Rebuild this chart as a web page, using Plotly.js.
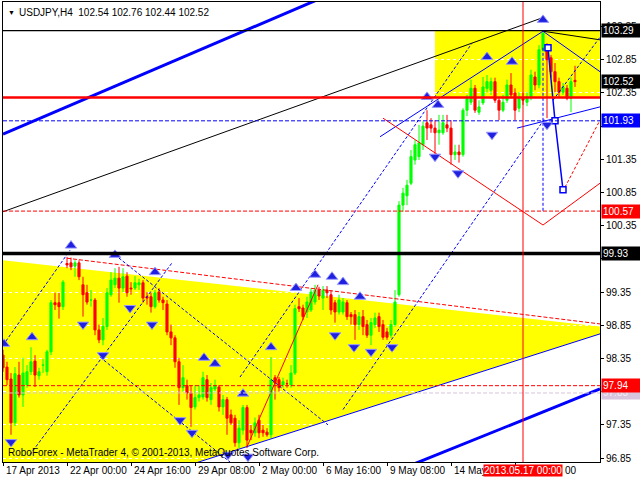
<!DOCTYPE html>
<html><head><meta charset="utf-8">
<script src="https://cdn.plot.ly/plotly-3.0.1.min.js"></script>
<style>html,body{margin:0;padding:0;background:#fff;}#chart{width:640px;height:480px;}</style>
</head><body><div id="chart"></div>
<script>
// ---------- data ----------
const titleText = 'USDJPY,H4\u00A0\u00A0102.54 102.76 102.44 102.52';
const footerText = 'RoboForex - MetaTrader 4, \u00A9 2001-2013, MetaQuotes Software Corp.';

const open = [98.40,98.22,98.04,97.38,98.10,97.80,97.95,98.15,98.31,98.09,98.25,98.15,98.45,99.19,99.19,99.13,99.78,99.79,99.74,99.79,
99.46,99.34,99.23,99.23,98.78,98.63,98.83,99.31,99.46,99.56,99.41,99.59,99.41,99.41,99.46,99.49,99.28,99.28,99.13,99.35,
99.23,99.17,98.75,98.66,98.30,97.91,97.94,97.83,97.62,97.76,97.77,98.03,97.73,97.89,97.92,97.62,97.73,97.50,97.45,97.08,
97.27,97.61,97.27,97.23,97.42,97.27,97.24,97.20,98.06,98.03,97.95,97.97,97.95,98.13,99.13,99.11,99.05,99.08,99.20,99.38,
99.26,99.38,99.31,99.19,99.05,99.05,99.19,99.01,99.01,98.86,98.98,98.86,98.70,98.86,98.98,98.86,98.75,98.70,98.86,99.31,
100.66,100.80,100.99,101.34,101.39,101.57,101.90,101.87,101.82,101.75,101.75,101.87,101.82,101.42,101.46,101.42,102.09,102.21,102.42,102.06,
102.20,102.42,102.39,102.52,102.24,102.09,102.24,102.47,102.35,102.12,102.27,102.21,102.29,102.59,102.47,103.00,103.03,102.88,102.67,102.52,
102.36,102.42,102.27,102.54];
const high = [98.48,98.30,98.13,98.22,98.30,98.36,98.25,98.52,98.40,98.21,98.34,98.48,99.23,99.34,99.34,99.53,99.88,99.87,99.83,99.83,
99.58,99.46,99.38,99.26,98.86,98.96,99.41,99.65,99.71,99.73,99.71,99.65,99.50,99.59,99.55,99.53,99.35,99.34,99.38,99.41,
99.28,99.23,98.86,98.70,98.36,98.25,98.03,97.95,97.95,97.95,98.15,98.10,97.98,98.03,97.95,97.80,97.77,97.58,97.50,97.42,
97.65,97.65,97.35,97.46,97.50,97.35,97.30,98.37,98.10,98.07,98.06,98.03,98.25,99.16,99.26,99.16,99.28,99.41,99.46,99.43,
99.44,99.44,99.38,99.23,99.31,99.26,99.23,99.05,99.08,99.05,99.08,98.93,98.96,99.04,99.04,98.93,98.81,98.93,99.38,100.72,
100.92,101.04,101.49,101.64,101.87,101.92,102.09,101.97,101.94,102.02,102.02,102.02,101.94,101.57,101.57,102.12,102.32,102.55,102.47,102.24,
102.59,102.62,102.58,102.58,102.29,102.32,102.55,102.65,102.42,102.36,102.35,102.36,102.70,102.67,103.07,103.29,103.10,102.92,102.80,102.58,
102.50,102.47,102.58,102.76];
const low = [98.15,97.95,97.20,97.33,97.76,97.62,97.91,98.10,97.92,98.03,98.13,98.09,98.40,99.08,98.95,99.08,99.71,99.68,99.58,99.53,
98.98,99.16,99.13,98.70,98.58,98.55,98.78,99.28,99.41,99.19,99.35,99.28,99.31,99.38,99.38,99.19,99.16,99.04,99.10,99.19,
99.08,98.70,98.55,98.21,97.65,97.85,97.73,97.32,97.58,97.70,97.73,97.70,97.65,97.85,97.55,97.50,97.20,97.35,97.02,97.00,
97.20,97.00,97.12,97.17,97.15,97.17,97.17,97.15,97.73,97.85,97.91,97.91,97.91,98.10,99.05,98.93,98.96,99.05,99.16,99.23,
99.08,99.26,99.01,98.89,99.01,99.01,98.93,98.86,98.63,98.78,98.70,98.66,98.55,98.81,98.75,98.63,98.63,98.66,98.83,99.28,
100.56,100.66,100.96,101.27,101.34,101.49,101.64,101.75,101.42,101.57,101.72,101.76,101.27,101.34,101.30,101.39,102.00,102.17,102.05,102.02,
102.17,102.36,102.32,102.20,101.94,102.06,102.20,102.27,101.94,102.06,102.17,102.15,102.24,102.39,102.42,102.97,101.97,102.58,102.36,102.29,
102.32,102.24,102.06,102.44];
const close = [98.21,98.03,97.38,98.12,97.80,98.13,98.15,98.30,98.10,98.15,98.25,98.45,99.19,99.16,99.13,99.50,99.76,99.73,99.79,99.58,
99.31,99.20,99.23,98.78,98.63,98.83,99.34,99.53,99.56,99.41,99.58,99.34,99.40,99.49,99.49,99.26,99.26,99.13,99.34,99.23,
99.19,98.75,98.66,98.30,97.91,98.06,97.83,97.61,97.76,97.80,98.06,97.76,97.91,97.94,97.62,97.73,97.45,97.38,97.08,97.30,
97.61,97.12,97.23,97.38,97.23,97.23,97.20,98.03,97.98,97.91,98.00,97.97,98.13,99.10,99.10,98.98,99.20,99.35,99.38,99.29,
99.38,99.34,99.08,99.05,99.23,99.20,98.98,98.98,98.86,98.98,98.83,98.70,98.89,98.96,98.83,98.67,98.67,98.86,99.20,100.66,
100.84,100.96,101.39,101.57,101.60,101.85,101.82,101.82,101.75,101.79,101.90,101.82,101.42,101.46,101.42,102.09,102.27,102.42,102.09,102.14,
102.44,102.52,102.52,102.24,102.09,102.21,102.47,102.32,102.09,102.27,102.24,102.29,102.62,102.47,103.00,103.25,102.85,102.67,102.52,102.36,
102.44,102.27,102.52,102.52];

const timeTickBars = [0,16,32,48,64,80,96,112,128];
const timeTickText = ['17 Apr 2013','22 Apr 00:00','24 Apr 16:00','29 Apr 08:00','2 May 00:00','6 May 16:00','9 May 08:00','14 May','00'];
const priceTicks = [96.85,97.35,97.85,98.35,98.85,99.35,99.85,100.35,100.85,101.35,101.85,102.35,102.85,103.35];
const hiddenPriceTicks = [97.85,99.85,101.85];
const markerBar = 130;
const markerLabel = '2013.05.17 00:00';

// horizontal levels
const levelHigh = 103.29;
const levelResist = 102.28;
const levelBid = 102.52;
const levelBlue = 101.93;
const levelRedUp = 100.57;
const levelBlack = 99.93;
const levelRedLow = 97.94;
const levelLav = 97.83;

// zones
const triX = [0,149.25,149.25,44.25,0];
const triY = [99.83,98.83,98.72,96.70,96.70];
const rectX = [108,149.25];
const rectY = [102.28,103.29];

// trend lines (bar index, price)
const blueThickUpX = [0,80], blueThickUpY = [101.73,103.79];
const blueThickLowX = [99,149.25], blueThickLowY = [96.67,97.89];
const blueSupportX = [44.25,149.25], blueSupportY = [96.70,98.72];
const redDashTopX = [16,149.25], redDashTopY = [99.86,98.87];
const blackChanX = [0,134.75], blackChanY = [100.56,103.48];
const blackTopX = [135,149.25], blackTopY = [103.28,103.15];
const blueUpX = [94.25,135], blueUpY = [101.69,103.28];
const blueDownX = [135,149.25], blueDownY = [103.28,102.67];
const blueLowRX = [128.5,149.25], blueLowRY = [101.82,102.14];
const zigX = [136.25,138,140], zigY = [103.03,101.93,100.89];
const blueVertX = [135,135], blueVertY = [103.03,100.56];
const dotLines = [
  [[0,16.75],[98.55,99.98]],
  [[6.75,42.25],[96.90,99.79]],
  [[28,81.25],[99.91,97.35]],
  [[24.25,56.75],[98.37,96.79]],
  [[59.25,117.25],[98.07,103.10]],
  [[85,135.5],[97.58,101.97]],
  [[137.5,149.25],[102.24,103.19]]
];
const redPathX = [95,135,149.25], redPathY = [101.97,100.36,100.99];
const redDotX = [140.5,149.25], redDotY = [100.93,101.94];
const redRiseX = [61,78.75], redRiseY = [97.02,99.46];

// fractal arrows
const upArrowX = [17,28,38,7.25,0.25,50.25,53,60,67,73.25,78,82.25,85,89.25,106,108.75,121,127.25,135];
const upArrowY = [100.05,99.91,99.65,98.67,98.57,98.36,98.27,97.82,98.52,99.41,99.61,99.58,99.50,99.28,102.29,102.17,102.89,102.82,103.45];
const downArrowX = [2,20,31.75,37.25,25,44.25,47.25,56.25,61.25,83,87.75,92,97.25,108,113.75,122.25,136];
const downArrowY = [97.09,98.86,99.11,98.86,98.40,97.42,97.23,96.90,96.87,98.70,98.52,98.45,98.52,101.39,101.14,101.72,101.87];

// ---------- build ----------
const bars = open.map((_, i) => i);
const FONT = 'Liberation Sans, Arial, sans-serif';

function ln(x, y, color, width, dash) {
  return {type:'scatter', mode:'lines', x:x, y:y, line:{color:color, width:width, dash:dash||'solid'}, hoverinfo:'skip', showlegend:false};
}

const traces = [];
traces.push({type:'candlestick', x:bars, open:open, high:high, low:low, close:close,
  increasing:{line:{color:'#00FF00', width:1}, fillcolor:'#00FF00'},
  decreasing:{line:{color:'#FF0000', width:1}, fillcolor:'#FF0000'},
  whiskerwidth:0, hoverinfo:'skip', showlegend:false});

traces.push(ln(blueThickUpX, blueThickUpY, '#0000FF', 3));
traces.push(ln(blueThickLowX, blueThickLowY, '#0000FF', 3));
traces.push(ln(blueSupportX, blueSupportY, '#0000FF', 1));
traces.push(ln(redDashTopX, redDashTopY, '#FF0000', 1, '4px,2px'));
traces.push(ln(blackChanX, blackChanY, '#000000', 1));
traces.push(ln(blackTopX, blackTopY, '#000000', 1));
traces.push(ln(blueUpX, blueUpY, '#0000FF', 1));
traces.push(ln(blueDownX, blueDownY, '#0000FF', 1));
traces.push(ln(blueLowRX, blueLowRY, '#0000FF', 1));
traces.push(ln(blueVertX, blueVertY, '#0000FF', 1, '3px,2px'));
dotLines.forEach(d => traces.push(ln(d[0], d[1], '#0000FF', 1, '3px,2px')));
traces.push(ln(redPathX, redPathY, '#FF0000', 1));
traces.push(ln(redDotX, redDotY, '#FF0000', 1, '3px,2px'));
traces.push(ln(redRiseX, redRiseY, '#FF0000', 1));
traces.push({type:'scatter', mode:'lines+markers', x:zigX, y:zigY, line:{color:'#0000FF', width:1.5},
  marker:{symbol:'square', size:6, color:'#FFFFFF', line:{color:'#0000FF', width:1.5}}, hoverinfo:'skip', showlegend:false});
traces.push({type:'scatter', mode:'markers', x:upArrowX, y:upArrowY,
  marker:{symbol:'triangle-up', size:10, color:'#2020E0', line:{color:'#9A9AFF', width:1}}, hoverinfo:'skip', showlegend:false});
traces.push({type:'scatter', mode:'markers', x:downArrowX, y:downArrowY,
  marker:{symbol:'triangle-down', size:10, color:'#2020E0', line:{color:'#9A9AFF', width:1}}, hoverinfo:'skip', showlegend:false});

function hline(p, color, width, dash, layer) {
  return {type:'line', xref:'paper', x0:0, x1:1, yref:'y', y0:p, y1:p, line:{color:color, width:width, dash:dash||'solid'}, layer:layer||'above'};
}
const triPath = 'M' + triX.map((x, i) => x + ',' + triY[i]).join('L') + 'Z';
const shapes = [
  {type:'path', xref:'x', yref:'y', path:triPath, fillcolor:'#FFFF00', line:{width:0}, layer:'below'},
  {type:'rect', xref:'x', yref:'y', x0:rectX[0], x1:rectX[1], y0:rectY[0], y1:rectY[1], fillcolor:'#FFFF00', line:{width:0}, layer:'below'},
  hline(levelBid, '#FFFFFF', 1, 'solid', 'between'),
  hline(levelLav, '#D8C4DC', 1, '4px,2px'),
  hline(levelRedLow, '#FF0000', 1, '4px,2px'),
  hline(levelRedUp, '#FF0000', 1, '4px,2px'),
  hline(levelBlue, '#0000FF', 1, '4px,2px'),
  hline(levelHigh, '#000000', 1.3),
  hline(levelResist, '#FF0000', 2.5),
  hline(levelBlack, '#000000', 3.5),
  {type:'line', xref:'x', x0:markerBar, x1:markerBar, yref:'paper', y0:0, y1:1, line:{color:'#FF0000', width:1}, layer:'above'}
];

function priceBox(p, bg, fg) {
  return {xref:'paper', x:1, xanchor:'left', yref:'y', y:p, yanchor:'middle', text:p.toFixed(2), showarrow:false,
    bgcolor:bg, borderpad:1, width:36, align:'left', xshift:1, font:{family:FONT, size:10, color:fg}};
}
const lastIdx = timeTickBars.length - 1;
const timeLabels = timeTickBars.map((b, i) => ({xref:'x', x:(i === lastIdx ? markerBar : b), xanchor:'left',
  xshift:(i === lastIdx ? 41 : 2), yref:'paper', y:0, yanchor:'top', yshift:-2,
  text:timeTickText[i], showarrow:false, borderpad:0, font:{family:FONT, size:10, color:'#000000'}}));
const annotations = timeLabels.concat([
  priceBox(levelLav, '#D8C4DC', '#F4EEF6'),
  priceBox(levelRedLow, '#FF0000', '#FFFFFF'),
  priceBox(levelBlack, '#000000', '#FFFFFF'),
  priceBox(levelRedUp, '#FF0000', '#FFFFFF'),
  priceBox(levelBlue, '#0000FF', '#FFFFFF'),
  priceBox(levelBid, '#000000', '#FFFFFF'),
  priceBox(levelHigh, '#000000', '#FFFFFF'),
  {xref:'x', x:markerBar, xanchor:'center', yref:'paper', y:0, yanchor:'top', yshift:-2, text:markerLabel, showarrow:false,
    bgcolor:'#FF0000', borderpad:0, font:{family:FONT, size:10, color:'#FFFFFF'}},
  {xref:'paper', x:0, xanchor:'left', yref:'paper', y:1, yanchor:'top', xshift:3, yshift:-5, text:'\u25BC', showarrow:false,
    font:{family:FONT, size:7, color:'#000000'}},
  {xref:'paper', x:0, xanchor:'left', yref:'paper', y:1, yanchor:'top', xshift:14, yshift:-3, text:titleText, showarrow:false,
    font:{family:FONT, size:10, color:'#000000'}},
  {xref:'paper', x:0, xanchor:'left', yref:'paper', y:0, yanchor:'bottom', xshift:3, yshift:2, text:footerText, showarrow:false,
    font:{family:FONT, size:10, color:'#000000'}}
]);

const layout = {
  width:640, height:480,
  margin:{l:3, r:40, t:2, b:18, pad:0},
  paper_bgcolor:'#FFFFFF', plot_bgcolor:'#FFFFFF',
  showlegend:false, hovermode:false, boxgap:0.25,
  font:{family:FONT, size:10, color:'#000000'},
  xaxis:{range:[0,149.25], showgrid:false, zeroline:false, showline:true, mirror:true, linecolor:'#000000', linewidth:1,
    ticks:'outside', ticklen:3, tickcolor:'#000000', tickvals:timeTickBars, showticklabels:false,
    rangeslider:{visible:false}, fixedrange:true},
  yaxis:{range:[96.79,103.72], side:'right', showgrid:true, gridcolor:'#FFFFFF', griddash:'3px,3px', gridwidth:1,
    zeroline:false, showline:true, mirror:true, linecolor:'#000000', linewidth:1,
    ticks:'outside', ticklen:3, tickcolor:'#000000', tickvals:priceTicks,
    ticktext:priceTicks.map(v => hiddenPriceTicks.includes(v) ? '' : v.toFixed(2)),
    tickfont:{family:FONT, size:10, color:'#000000'}, fixedrange:true},
  shapes:shapes, annotations:annotations
};

Plotly.newPlot('chart', traces, layout, {staticPlot:true, displayModeBar:false});
</script></body></html>
